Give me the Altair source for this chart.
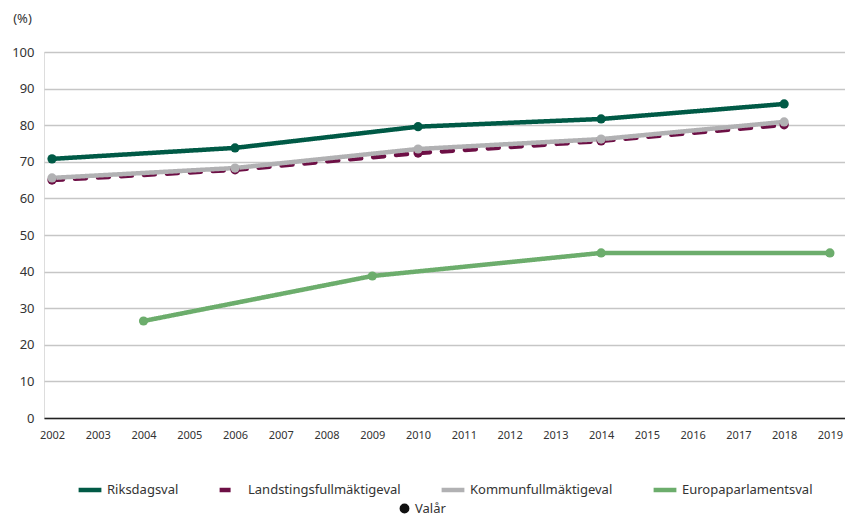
import altair as alt
import pandas as pd

series = ["Riksdagsval", "Landstingsfullmäktigeval", "Kommunfullmäktigeval", "Europaparlamentsval"]
colors = ["#005a46", "#6d0f45", "#b1b1b3", "#6cad6c"]
dashes = [[1, 0], [11, 12], [1, 0], [1, 0]]

years_nat = [2002, 2006, 2010, 2014, 2018]
riksdag = [70.8, 73.8, 79.6, 81.7, 85.8]
landsting = [65.0, 67.8, 72.4, 75.7, 80.1]
kommun = [65.6, 68.3, 73.5, 76.2, 80.9]
years_eu = [2004, 2009, 2014, 2019]
europa = [26.5, 38.8, 45.1, 45.1]

x_ticks = list(range(2002, 2020))
y_ticks = list(range(0, 101, 10))

rows = []
for name, ys, vs in [
    (series[0], years_nat, riksdag),
    (series[1], years_nat, landsting),
    (series[2], years_nat, kommun),
    (series[3], years_eu, europa),
]:
    for yr, v in zip(ys, vs):
        rows.append({"serie": name, "år": yr, "värde": v, "punkt": "Valår"})
df = pd.DataFrame(rows)

FONT = "Noto Sans"

x = alt.X(
    "år:Q",
    scale=alt.Scale(domain=[2001.825, 2019.33], nice=False, zero=False),
    axis=alt.Axis(
        values=x_ticks, format="d", title=None, ticks=False, grid=False,
        domain=True, domainColor="#222222", domainWidth=1.6,
        labelFontSize=11, labelColor="#333333", labelPadding=11, labelFont=FONT,
    ),
)
y = alt.Y(
    "värde:Q",
    scale=alt.Scale(domain=[0, 100], nice=False),
    axis=alt.Axis(
        values=y_ticks, title="(%)", titleAngle=0, titleX=-22, titleY=-34,
        titleAlign="center", titleBaseline="middle", titleFontWeight="normal",
        titleFontSize=13, titleColor="#333333", titleFont=FONT,
        ticks=False, domain=False, grid=True, gridColor="#c6c6c6", gridWidth=1.3,
        labelFontSize=13, labelColor="#333333", labelPadding=10, labelFont=FONT,
    ),
)
leg = dict(
    title=None, orient="none", legendX=32, legendY=424, direction="horizontal",
    columns=4, symbolType="stroke", symbolStrokeWidth=4.5, symbolSize=520,
    labelFontSize=13, labelColor="#333333", labelFont=FONT, columnPadding=31,
    symbolOffset=0, labelOffset=3,
)
color = alt.Color("serie:N", scale=alt.Scale(domain=series, range=colors), legend=alt.Legend(**leg))
dash = alt.StrokeDash("serie:N", scale=alt.Scale(domain=series, range=dashes), legend=alt.Legend(**leg))

lines = alt.Chart(df).mark_line(strokeWidth=4.5, strokeCap="round").encode(
    x=x, y=y, color=color, strokeDash=dash, order=alt.Order("år:Q"),
    detail="serie:N",
)
points = alt.Chart(df).mark_point(filled=True, size=85, opacity=1).encode(
    x=x, y=y, color=alt.Color("serie:N", scale=alt.Scale(domain=series, range=colors), legend=None),
    shape=alt.Shape(
        "punkt:N",
        scale=alt.Scale(domain=["Valår"], range=["circle"]),
        legend=alt.Legend(
            title=None, orient="none", legendX=354, legendY=450,
            symbolFillColor="#111111", symbolStrokeColor="#111111", symbolSize=70,
            labelFontSize=13, labelColor="#333333", labelFont=FONT, labelOffset=4,
        ),
    ),
)

chart = alt.layer(lines, points).properties(
    width=801, height=366,
    autosize=alt.AutoSizeParams(type="none"),
    padding={"left": 36, "top": 44, "right": 0, "bottom": 97},
).configure_view(stroke=None).configure(font=FONT, background="white")

chart.save("out.html", embed_options={"renderer": "svg", "actions": False})
